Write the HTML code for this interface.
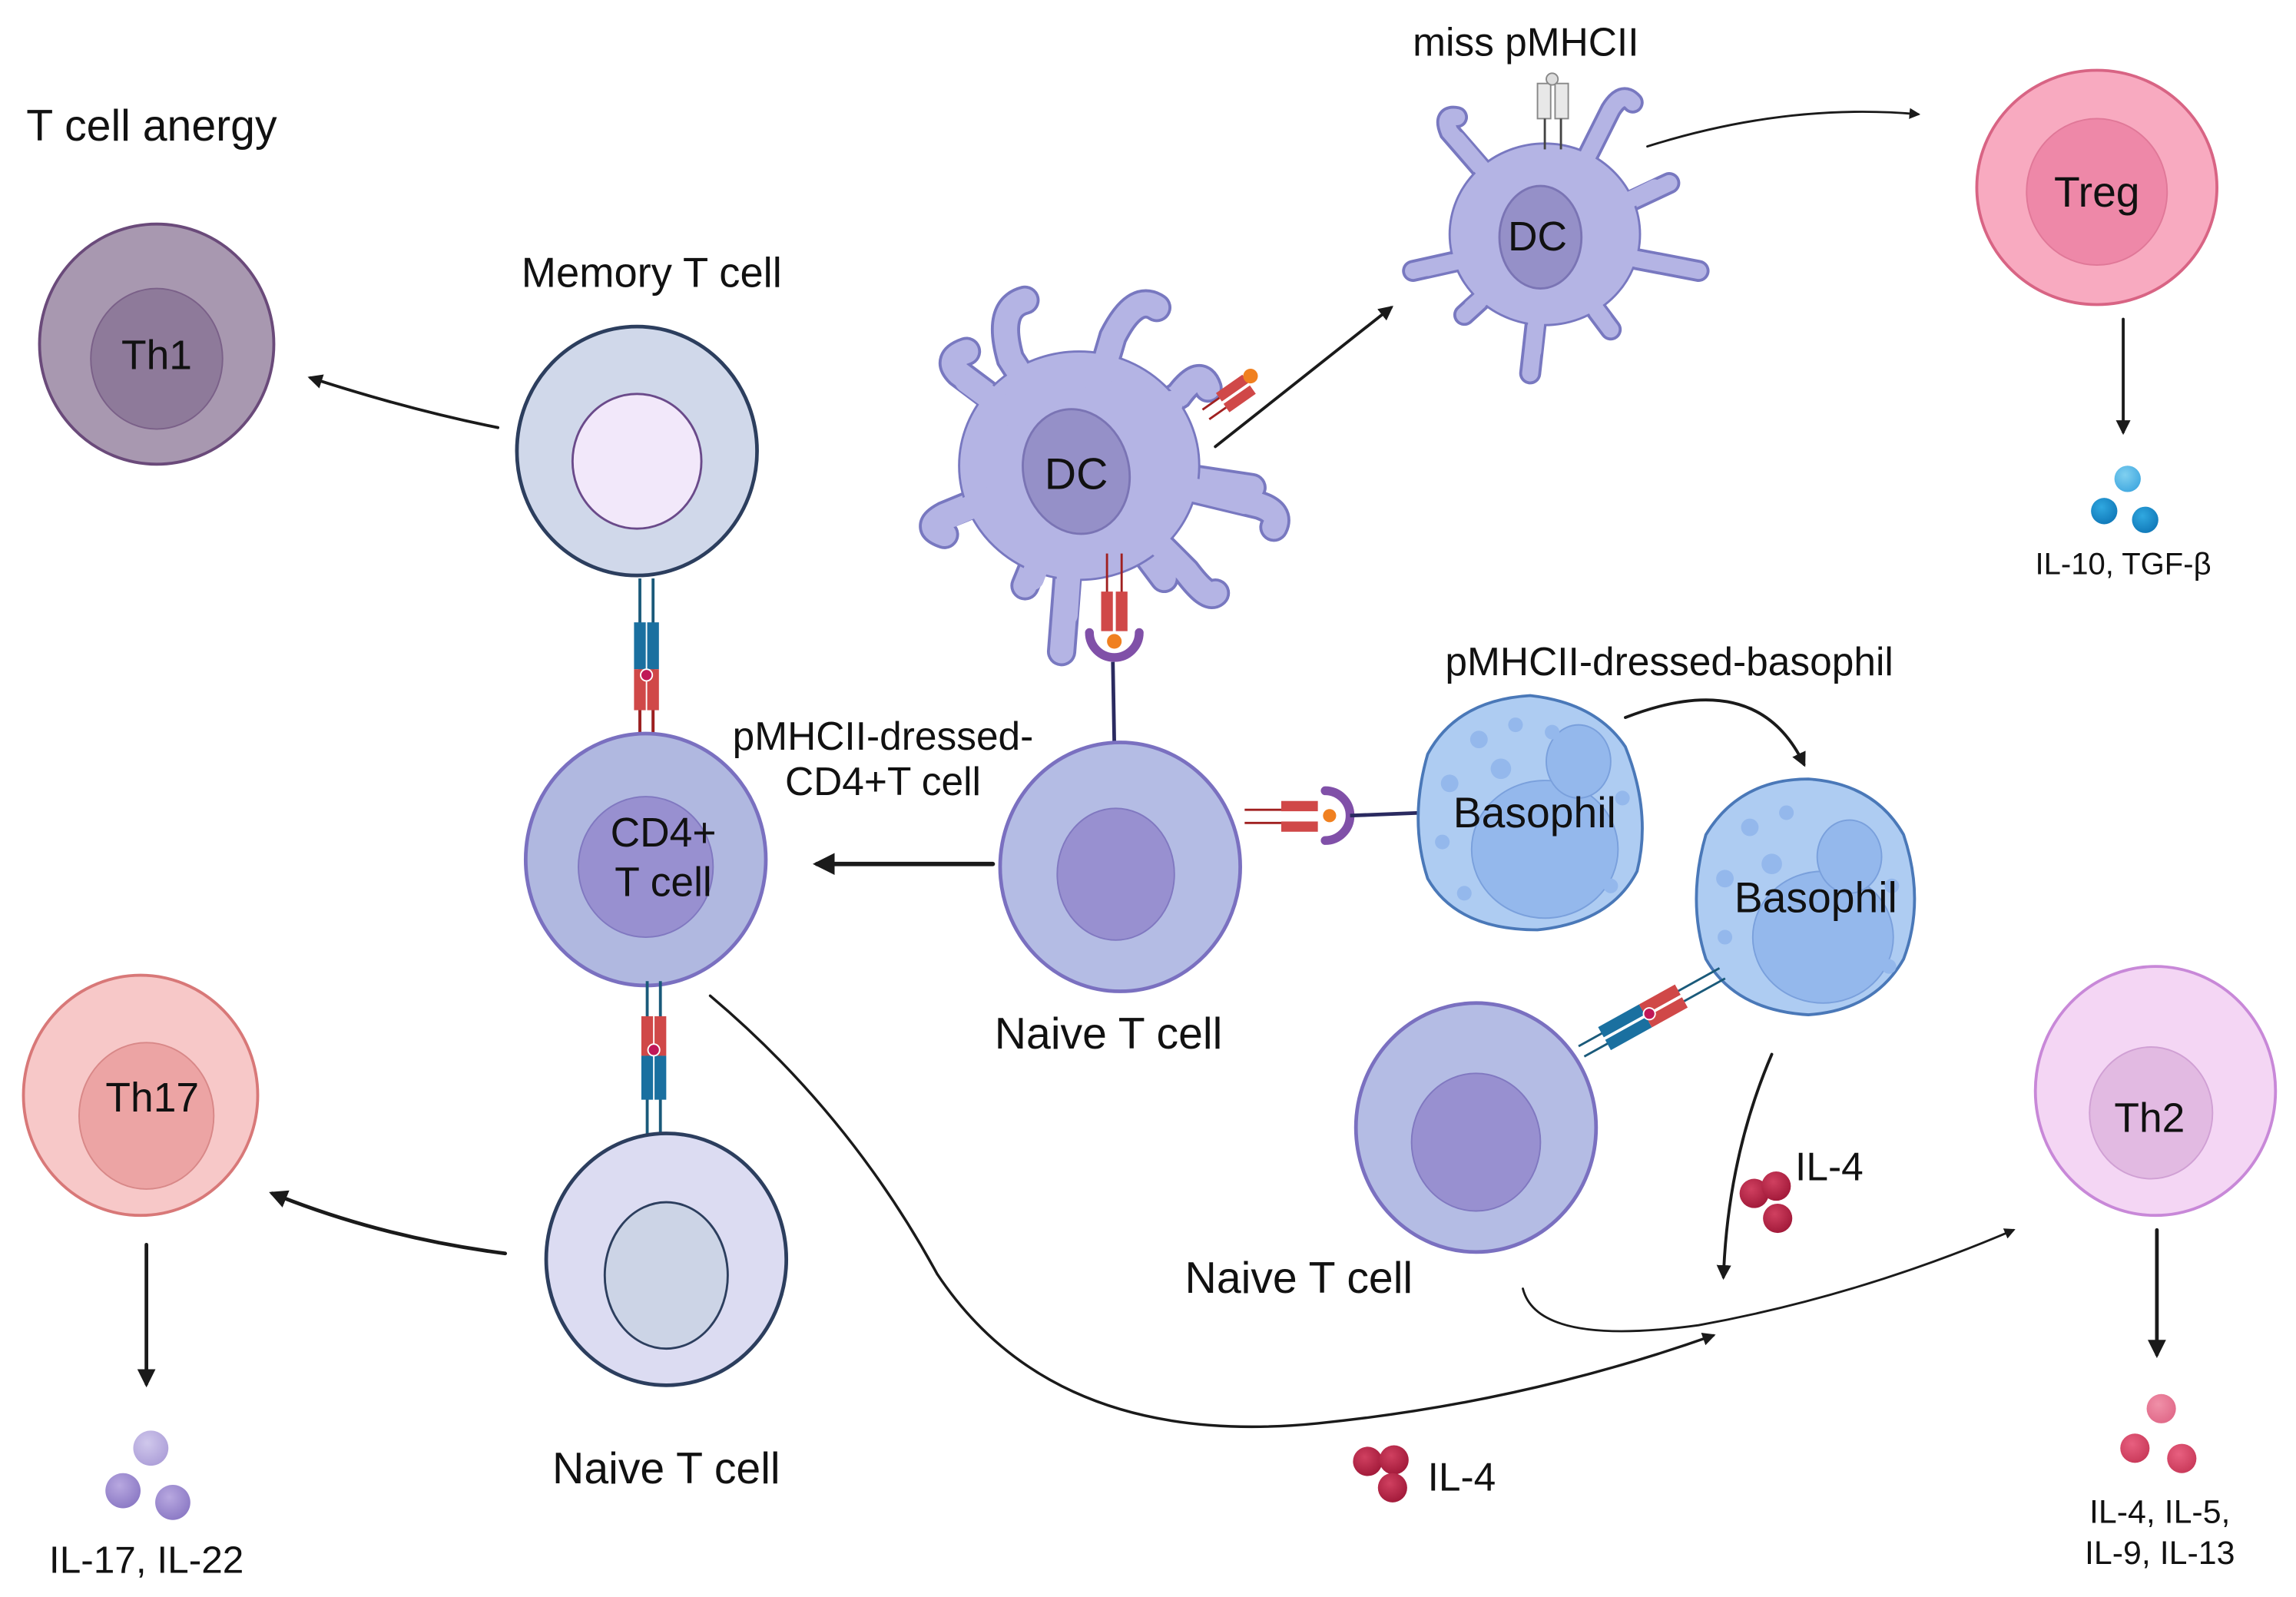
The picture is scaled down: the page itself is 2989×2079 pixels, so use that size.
<!DOCTYPE html>
<html><head><meta charset="utf-8"><style>html,body{margin:0;padding:0;background:#fff}svg{display:block}text{font-family:"Liberation Sans",sans-serif;fill:#111}</style></head><body>
<svg width="2989" height="2079" viewBox="0 0 1568 1090.6" xmlns="http://www.w3.org/2000/svg">
<defs>
<marker id="ah" viewBox="0 0 10 10" refX="8" refY="5" markerWidth="5" markerHeight="5" orient="auto"><path d="M0,0 L10,5 L0,10 z" fill="#1a1a1a"/></marker>
<radialGradient id="gp" cx="0.4" cy="0.35" r="0.7"><stop offset="0" stop-color="#b8a8e0"/><stop offset="1" stop-color="#8a78c4"/></radialGradient>
<radialGradient id="gpl" cx="0.4" cy="0.35" r="0.7"><stop offset="0" stop-color="#d0c8ec"/><stop offset="1" stop-color="#ac9ed8"/></radialGradient>
<radialGradient id="gr" cx="0.4" cy="0.35" r="0.7"><stop offset="0" stop-color="#d04060"/><stop offset="1" stop-color="#a01838"/></radialGradient>
<radialGradient id="gb" cx="0.4" cy="0.35" r="0.7"><stop offset="0" stop-color="#30a8e0"/><stop offset="1" stop-color="#1078b8"/></radialGradient>
<radialGradient id="gbl" cx="0.4" cy="0.35" r="0.7"><stop offset="0" stop-color="#80d0f0"/><stop offset="1" stop-color="#40a8e0"/></radialGradient>
<radialGradient id="gk" cx="0.4" cy="0.35" r="0.7"><stop offset="0" stop-color="#e86080"/><stop offset="1" stop-color="#c83858"/></radialGradient>
<radialGradient id="gkl" cx="0.4" cy="0.35" r="0.7"><stop offset="0" stop-color="#f090a8"/><stop offset="1" stop-color="#e06888"/></radialGradient>
</defs>

<g fill="none" stroke="#1a1a1a" stroke-linecap="round">
<path d="M340,292 Q280,280 212,258" stroke-width="2" marker-end="url(#ah)"/>
<path d="M345,856 Q260,845 186,815" stroke-width="2.5" marker-end="url(#ah)"/>
<path d="M100,850 L100,945" stroke-width="2.5" marker-end="url(#ah)"/>
<path d="M830,305 L950,210" stroke-width="2" marker-end="url(#ah)"/>
<path d="M1125,100 Q1220,70 1310,78" stroke-width="1.5" marker-end="url(#ah)"/>
<path d="M1450,218 L1450,295" stroke-width="2" marker-end="url(#ah)"/>
<path d="M678,590 L558,590" stroke-width="3" marker-end="url(#ah)"/>
<path d="M1110,490 Q1200,455 1232,522" stroke-width="2" marker-end="url(#ah)"/>
<path d="M1210,720 Q1180,790 1177,872" stroke-width="2" marker-end="url(#ah)"/>
<path d="M1473,840 L1473,925" stroke-width="2.5" marker-end="url(#ah)"/>
<path d="M1040,880 Q1050,920 1160,905 Q1270,885 1375,840" stroke-width="1.5" marker-end="url(#ah)"/>
<path d="M485,680 Q580,760 640,870 Q720,990 900,972 Q1040,958 1170,912" stroke-width="1.8" marker-end="url(#ah)"/>
</g>

<ellipse cx="107" cy="235" rx="80" ry="82" fill="#a898b0" stroke="#6a4a7a" stroke-width="2"/>
<ellipse cx="107" cy="245" rx="45" ry="48" fill="#8e7a9a" stroke="#7a6088" stroke-width="1"/>
<text x="107" y="252" font-size="28" text-anchor="middle">Th1</text>
<text x="18" y="96" font-size="30">T cell anergy</text>

<text x="445" y="196" font-size="28.5" text-anchor="middle">Memory T cell</text>
<ellipse cx="435" cy="308" rx="82" ry="85" fill="#d0d8ea" stroke="#2c3e5e" stroke-width="2.5"/>
<ellipse cx="435" cy="315" rx="44" ry="46" fill="#f2e8fa" stroke="#6a4a8a" stroke-width="1.5"/>

<g>
<line x1="437" y1="395" x2="437" y2="505" stroke="#1a5a7a" stroke-width="2"/>
<line x1="446" y1="395" x2="446" y2="505" stroke="#1a5a7a" stroke-width="2"/>
<rect x="433" y="425" width="8" height="32" fill="#1a70a0"/><rect x="442" y="425" width="8" height="32" fill="#1a70a0"/>
<rect x="433" y="457" width="8" height="28" fill="#d04848"/><rect x="442" y="457" width="8" height="28" fill="#d04848"/>
<line x1="437" y1="485" x2="437" y2="505" stroke="#a02020" stroke-width="2"/><line x1="446" y1="485" x2="446" y2="505" stroke="#a02020" stroke-width="2"/>
<circle cx="441.5" cy="461" r="4" fill="#c01858" stroke="#fff"/>
</g>

<ellipse cx="441" cy="587" rx="82" ry="86" fill="#b0b8e0" stroke="#7a70c0" stroke-width="2.5"/>
<ellipse cx="441" cy="592" rx="46" ry="48" fill="#9890d0" stroke="#8078c0" stroke-width="1"/>
<text x="453" y="578" font-size="28" text-anchor="middle">CD4+</text>
<text x="453" y="612" font-size="28" text-anchor="middle">T cell</text>

<g>
<line x1="442" y1="670" x2="442" y2="778" stroke="#1a5a7a" stroke-width="2"/>
<line x1="451" y1="670" x2="451" y2="778" stroke="#1a5a7a" stroke-width="2"/>
<rect x="438" y="694" width="8" height="27" fill="#d04848"/><rect x="447" y="694" width="8" height="27" fill="#d04848"/>
<rect x="438" y="721" width="8" height="30" fill="#1a70a0"/><rect x="447" y="721" width="8" height="30" fill="#1a70a0"/>
<circle cx="446.5" cy="717" r="4" fill="#c01858" stroke="#fff"/>
</g>

<ellipse cx="455" cy="860" rx="82" ry="86" fill="#dcdcf2" stroke="#2c3e5e" stroke-width="2.5"/>
<ellipse cx="455" cy="871" rx="42" ry="50" fill="#ccd4e6" stroke="#2c3e5e" stroke-width="1.5"/>
<text x="455" y="1013" font-size="30" text-anchor="middle">Naive T cell</text>

<ellipse cx="96" cy="748" rx="80" ry="82" fill="#f7c8c8" stroke="#d87878" stroke-width="2"/>
<ellipse cx="100" cy="762" rx="46" ry="50" fill="#eca4a4" stroke="#d88888" stroke-width="1"/>
<text x="104" y="759" font-size="28" text-anchor="middle">Th17</text>
<circle cx="103" cy="989" r="12" fill="url(#gpl)"/>
<circle cx="84" cy="1018" r="12" fill="url(#gp)"/>
<circle cx="118" cy="1026" r="12" fill="url(#gp)"/>
<text x="100" y="1074" font-size="26" text-anchor="middle">IL-17, IL-22</text>

<g fill="none" stroke-linecap="round">
<g stroke="#7878c0" stroke-width="20">
<path d="M735,315 L690,245 Q680,210 700,205"/><path d="M735,315 L760,230 Q775,200 790,210"/>
<path d="M735,315 L655,255 Q645,245 660,240"/><path d="M735,315 L805,270 Q820,250 825,265"/>
<path d="M735,315 L645,352 Q630,360 645,365"/><path d="M735,315 L860,345 Q875,350 870,360"/>
<path d="M735,315 L700,400"/><path d="M735,315 L725,445"/><path d="M735,315 L810,390 Q825,410 830,405"/>
<path d="M735,315 L855,333"/><path d="M735,315 L795,395"/>
</g>
<g stroke="#b4b4e4" stroke-width="16">
<path d="M735,315 L690,245 Q680,210 700,205"/><path d="M735,315 L760,230 Q775,200 790,210"/>
<path d="M735,315 L655,255 Q645,245 660,240"/><path d="M735,315 L805,270 Q820,250 825,265"/>
<path d="M735,315 L645,352 Q630,360 645,365"/><path d="M735,315 L860,345 Q875,350 870,360"/>
<path d="M735,315 L700,400"/><path d="M735,315 L725,445"/><path d="M735,315 L810,390 Q825,410 830,405"/>
<path d="M735,315 L855,333"/><path d="M735,315 L795,395"/>
</g>
</g>
<ellipse cx="737" cy="318" rx="82" ry="78" fill="#b4b4e4" stroke="#7878c0" stroke-width="1.5"/>
<g fill="none" stroke-linecap="round" stroke="#b4b4e4" stroke-width="16">
<path d="M735,315 L690,245"/><path d="M735,315 L760,230"/><path d="M735,315 L660,260"/><path d="M735,315 L800,275"/><path d="M735,315 L650,352"/><path d="M735,315 L850,343"/><path d="M735,315 L705,395"/><path d="M735,315 L728,420"/><path d="M735,315 L805,385"/>
</g>
<ellipse cx="735" cy="322" rx="36" ry="43" transform="rotate(-15 735 322)" fill="#9590c8" stroke="#7a74b4" stroke-width="1.5"/>
<text x="735" y="334" font-size="30" text-anchor="middle">DC</text>
<g transform="translate(835,275) rotate(-35)">
<line x1="-14" y1="4" x2="0" y2="4" stroke="#a02020" stroke-width="1.5"/><line x1="-14" y1="-4" x2="0" y2="-4" stroke="#a02020" stroke-width="1.5"/>
<rect x="0" y="-8" width="22" height="7" fill="#d04848"/><rect x="0" y="1" width="22" height="7" fill="#d04848"/>
<circle cx="26" cy="-4" r="5" fill="#f08020"/>
</g>
<line x1="756" y1="378" x2="756" y2="405" stroke="#a02020" stroke-width="1.5"/><line x1="766" y1="378" x2="766" y2="405" stroke="#a02020" stroke-width="1.5"/>
<rect x="752" y="404" width="8" height="27" fill="#d04848"/><rect x="762" y="404" width="8" height="27" fill="#d04848"/>
<path d="M744,432 A17,17 0 0 0 778,432" fill="none" stroke="#8050a8" stroke-width="6" stroke-linecap="round"/>
<circle cx="761" cy="438" r="5" fill="#f08020"/>
<line x1="760" y1="452" x2="761" y2="508" stroke="#2a2a60" stroke-width="2.5"/>

<g fill="none" stroke-linecap="round">
<g stroke="#7878c0" stroke-width="15">
<path d="M1055,165 L990,90 Q985,78 995,80"/><path d="M1055,165 L1100,75 Q1108,62 1115,70"/>
<path d="M1055,165 L965,185"/><path d="M1055,165 L1160,185"/><path d="M1055,165 L1045,255"/>
<path d="M1055,165 L1100,225"/><path d="M1055,165 L1000,215"/><path d="M1055,165 L1140,125"/>
</g>
<g stroke="#b4b4e4" stroke-width="11">
<path d="M1055,165 L990,90 Q985,78 995,80"/><path d="M1055,165 L1100,75 Q1108,62 1115,70"/>
<path d="M1055,165 L965,185"/><path d="M1055,165 L1160,185"/><path d="M1055,165 L1045,255"/>
<path d="M1055,165 L1100,225"/><path d="M1055,165 L1000,215"/><path d="M1055,165 L1140,125"/>
</g>
</g>
<ellipse cx="1055" cy="160" rx="65" ry="62" fill="#b4b4e4" stroke="#7878c0" stroke-width="1.5"/>
<g fill="none" stroke-linecap="round" stroke="#b4b4e4" stroke-width="11">
<path d="M1055,165 L995,95"/><path d="M1055,165 L1095,85"/><path d="M1055,165 L975,183"/><path d="M1055,165 L1150,183"/><path d="M1055,165 L1047,240"/><path d="M1055,165 L1095,218"/><path d="M1055,165 L1005,210"/><path d="M1055,165 L1130,128"/>
</g>
<ellipse cx="1052" cy="162" rx="28" ry="35" fill="#9590c8" stroke="#7a74b4" stroke-width="1.5"/>
<text x="1050" y="171" font-size="28" text-anchor="middle">DC</text>
<text x="1042" y="38" font-size="27" text-anchor="middle">miss pMHCII</text>
<g stroke="#888" stroke-width="1">
<rect x="1050" y="57" width="9" height="24" fill="#e8e8e8"/><rect x="1062" y="57" width="9" height="24" fill="#e8e8e8"/>
<circle cx="1060" cy="54" r="4" fill="#ddd"/>
<line x1="1055" y1="81" x2="1055" y2="102" stroke="#444" stroke-width="1.5"/><line x1="1066" y1="81" x2="1066" y2="102" stroke="#444" stroke-width="1.5"/>
</g>

<ellipse cx="1432" cy="128" rx="82" ry="80" fill="#f8aac0" stroke="#d86484" stroke-width="2"/>
<ellipse cx="1432" cy="131" rx="48" ry="50" fill="#ee88a8" stroke="#e07898" stroke-width="1"/>
<text x="1432" y="141" font-size="29" text-anchor="middle">Treg</text>
<circle cx="1453" cy="327" r="9" fill="url(#gbl)"/>
<circle cx="1437" cy="349" r="9" fill="url(#gb)"/>
<circle cx="1465" cy="355" r="9" fill="url(#gb)"/>
<text x="1450" y="392" font-size="21" text-anchor="middle">IL-10, TGF-β</text>

<ellipse cx="765" cy="592" rx="82" ry="85" fill="#b4bce4" stroke="#7a70c0" stroke-width="2.5"/>
<ellipse cx="762" cy="597" rx="40" ry="45" fill="#9890d0" stroke="#8078c0" stroke-width="1"/>
<text x="757" y="716" font-size="30" text-anchor="middle">Naive T cell</text>
<text x="603" y="512" font-size="27" text-anchor="middle">pMHCII-dressed-</text>
<text x="603" y="543" font-size="27" text-anchor="middle">CD4+T cell</text>

<line x1="850" y1="553" x2="875" y2="553" stroke="#a02020" stroke-width="1.5"/><line x1="850" y1="562" x2="875" y2="562" stroke="#a02020" stroke-width="1.5"/>
<rect x="875" y="547" width="25" height="7" fill="#d04848"/><rect x="875" y="561" width="25" height="7" fill="#d04848"/>
<circle cx="908" cy="557" r="4.5" fill="#f08020"/>
<path d="M905,540 A17,17 0 0 1 905,574" fill="none" stroke="#8050a8" stroke-width="6" stroke-linecap="round"/>
<line x1="922" y1="557" x2="972" y2="555" stroke="#2a2a60" stroke-width="2.5"/>

<path d="M1045,475 Q1090,480 1110,510 Q1128,555 1118,595 Q1100,630 1050,635 Q995,635 975,600 Q962,560 975,515 Q995,478 1045,475 Z" fill="#aeccf2" stroke="#4a78b8" stroke-width="2"/>
<ellipse cx="1055" cy="580" rx="50" ry="47" fill="#94b8ec" stroke="#7aa0dc" stroke-width="1"/>
<ellipse cx="1078" cy="520" rx="22" ry="25" fill="#94b8ec" stroke="#7aa0dc" stroke-width="1"/>
<g fill="#94b8ec"><circle cx="1010" cy="505" r="6"/><circle cx="1035" cy="495" r="5"/><circle cx="990" cy="535" r="6"/><circle cx="1025" cy="525" r="7"/><circle cx="985" cy="575" r="5"/><circle cx="1000" cy="610" r="5"/><circle cx="1100" cy="605" r="5"/><circle cx="1108" cy="545" r="5"/><circle cx="1060" cy="500" r="5"/></g>
<text x="1048" y="565" font-size="29" text-anchor="middle">Basophil</text>
<text x="1140" y="461" font-size="27" text-anchor="middle">pMHCII-dressed-basophil</text>

<path d="M1235,532 Q1280,535 1300,570 Q1315,615 1300,655 Q1280,690 1235,693 Q1185,690 1165,655 Q1152,615 1165,570 Q1188,532 1235,532 Z" fill="#aeccf2" stroke="#4a78b8" stroke-width="2"/>
<ellipse cx="1245" cy="640" rx="48" ry="45" fill="#94b8ec" stroke="#7aa0dc" stroke-width="1"/>
<ellipse cx="1263" cy="585" rx="22" ry="25" fill="#94b8ec" stroke="#7aa0dc" stroke-width="1"/>
<g fill="#94b8ec"><circle cx="1195" cy="565" r="6"/><circle cx="1220" cy="555" r="5"/><circle cx="1178" cy="600" r="6"/><circle cx="1210" cy="590" r="7"/><circle cx="1178" cy="640" r="5"/><circle cx="1290" cy="660" r="5"/><circle cx="1292" cy="605" r="5"/></g>
<text x="1240" y="623" font-size="29" text-anchor="middle">Basophil</text>

<ellipse cx="1008" cy="770" rx="82" ry="85" fill="#b4bce4" stroke="#7a70c0" stroke-width="2.5"/>
<ellipse cx="1008" cy="780" rx="44" ry="47" fill="#9890d0" stroke="#8078c0" stroke-width="1"/>
<text x="887" y="883" font-size="30" text-anchor="middle">Naive T cell</text>
<g transform="translate(1080,718) rotate(-29)">
<line x1="0" y1="-4" x2="110" y2="-4" stroke="#1a5a7a" stroke-width="1.5"/><line x1="0" y1="4" x2="110" y2="4" stroke="#1a5a7a" stroke-width="1.5"/>
<rect x="18" y="-9" width="32" height="8" fill="#1a70a0"/><rect x="18" y="1" width="32" height="8" fill="#1a70a0"/>
<rect x="50" y="-9" width="28" height="8" fill="#d04848"/><rect x="50" y="1" width="28" height="8" fill="#d04848"/>
<circle cx="53" cy="0" r="4" fill="#c01858" stroke="#fff"/>
</g>

<circle cx="1198" cy="815" r="10" fill="url(#gr)"/><circle cx="1213" cy="810" r="10" fill="url(#gr)"/><circle cx="1214" cy="832" r="10" fill="url(#gr)"/>
<text x="1226" y="806" font-size="27">IL-4</text>

<ellipse cx="1472" cy="745" rx="82" ry="85" fill="#f4d6f4" stroke="#c888d8" stroke-width="2"/>
<ellipse cx="1469" cy="760" rx="42" ry="45" fill="#e2bae2" stroke="#d0a0d4" stroke-width="1"/>
<text x="1468" y="773" font-size="28" text-anchor="middle">Th2</text>
<circle cx="1476" cy="962" r="10" fill="url(#gkl)"/>
<circle cx="1458" cy="989" r="10" fill="url(#gk)"/>
<circle cx="1490" cy="996" r="10" fill="url(#gk)"/>
<text x="1475" y="1040" font-size="22.5" text-anchor="middle">IL-4, IL-5,</text>
<text x="1475" y="1068" font-size="22.5" text-anchor="middle">IL-9, IL-13</text>

<circle cx="934" cy="998" r="10" fill="url(#gr)"/><circle cx="952" cy="997" r="10" fill="url(#gr)"/><circle cx="951" cy="1016" r="10" fill="url(#gr)"/>
<text x="975" y="1018" font-size="27">IL-4</text>
</svg>
</body></html>
